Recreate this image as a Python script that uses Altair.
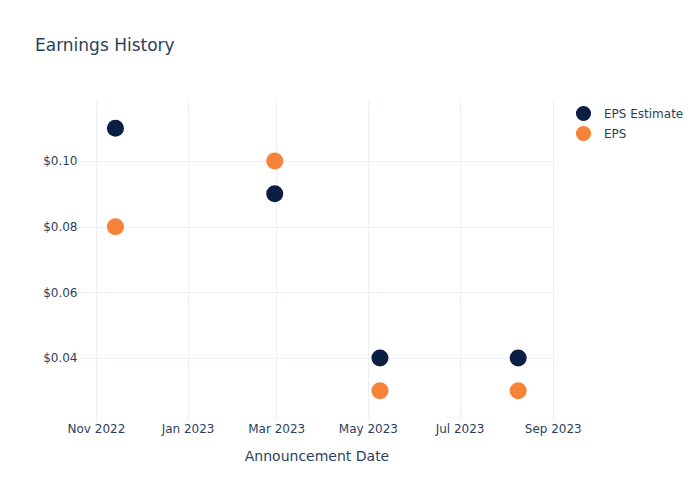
import altair as alt
import pandas as pd

dates = ["2022-11-14", "2023-02-28", "2023-05-09", "2023-08-09"]
eps_estimate = [0.11, 0.09, 0.04, 0.04]
eps_actual = [0.08, 0.10, 0.03, 0.03]
series_names = ["EPS Estimate", "EPS"]
series_colors = ["#0b1f44", "#f7823a"]
y_ticks = [0.04, 0.06, 0.08, 0.10]

rows = []
for d, v in zip(dates, eps_estimate):
    rows.append({"date": d, "value": v, "series": "EPS Estimate"})
for d, v in zip(dates, eps_actual):
    rows.append({"date": d, "value": v, "series": "EPS"})
df = pd.DataFrame(rows)

FONT = "DejaVu Sans"
TXT = "#2a3f5f"
GRID = "#ebf0f8"

x_ticks = [
    alt.DateTime(year=2022, month=11, date=1, utc=True),
    alt.DateTime(year=2023, month=1, date=1, utc=True),
    alt.DateTime(year=2023, month=3, date=1, utc=True),
    alt.DateTime(year=2023, month=5, date=1, utc=True),
    alt.DateTime(year=2023, month=7, date=1, utc=True),
    alt.DateTime(year=2023, month=9, date=1, utc=True),
]

chart = alt.Chart(df).mark_circle(opacity=1, size=290).encode(
    x=alt.X(
        "date:T",
        title="Announcement Date",
        scale=alt.Scale(
            type="utc",
            domain=[
                alt.DateTime(year=2022, month=10, date=21, hours=10, utc=True),
                alt.DateTime(year=2023, month=9, date=1, hours=4, utc=True),
            ],
        ),
        axis=alt.Axis(
            values=x_ticks,
            format="%b %Y",
            domain=False,
            ticks=False,
            labelPadding=3,
            labelFlush=False,
            labelOverlap=False,
            labelBound=False,
            titlePadding=15,
            grid=True,
            gridColor=GRID,
            labelFont=FONT,
            labelFontSize=12,
            labelColor=TXT,
            titleFont=FONT,
            titleFontSize=14,
            titleColor=TXT,
            titleFontWeight="normal",
        ),
    ),
    y=alt.Y(
        "value:Q",
        title=None,
        scale=alt.Scale(domain=[0.02111, 0.11858], nice=False, zero=False),
        axis=alt.Axis(
            values=y_ticks,
            format="$.2f",
            domain=False,
            ticks=False,
            labelPadding=3,
            grid=True,
            gridColor=GRID,
            labelFont=FONT,
            labelFontSize=12,
            labelColor=TXT,
        ),
    ),
    color=alt.Color(
        "series:N",
        scale=alt.Scale(domain=series_names, range=series_colors),
        sort=series_names,
        legend=alt.Legend(
            title=None,
            orient="none",
            legendX=495,
            legendY=5,
            symbolSize=230,
            symbolType="circle",
            symbolOpacity=1,
            labelOffset=12,
            rowPadding=3,
            labelFontSize=12,
            labelColor=TXT,
            labelFont=FONT,
        ),
    ),
    order=alt.Order("series:N", sort="descending"),
).properties(
    width=473,
    height=320,
    background="white",
    title=alt.TitleParams(
        "Earnings History",
        anchor="start",
        frame="group",
        dx=-45,
        dy=18,
        offset=50,
        baseline="alphabetic",
        fontSize=17,
        fontWeight="normal",
        color=TXT,
        font=FONT,
    ),
    autosize=alt.AutoSizeParams(type="none"),
    padding={"left": 80, "top": 100, "right": 147, "bottom": 80},
).configure_view(stroke=None)

chart.save("out.html", embed_options={"renderer": "svg", "actions": False})
